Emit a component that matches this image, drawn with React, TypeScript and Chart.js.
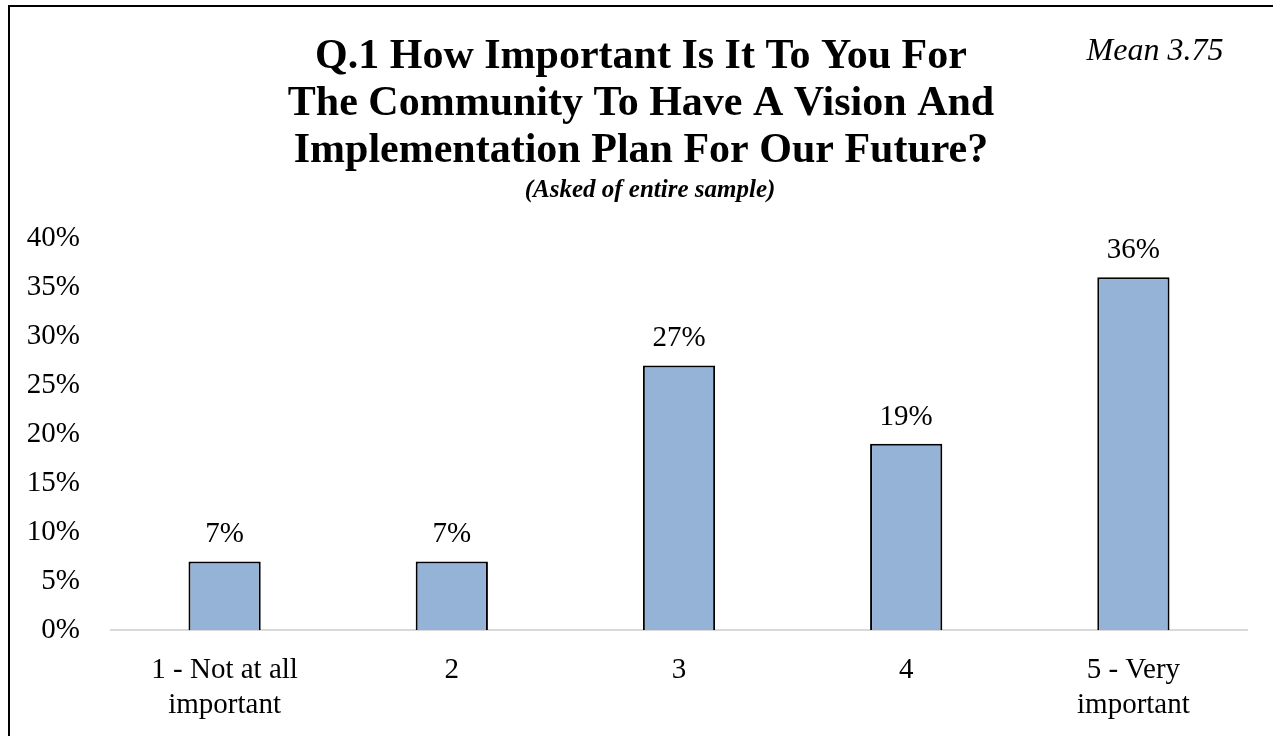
import React, { useEffect, useRef } from "react";
import { Chart, registerables } from "chart.js";

Chart.register(...registerables);

const categories: (string | string[])[] = [
  ["1 - Not at all", "important"],
  "2",
  "3",
  "4",
  ["5 - Very", "important"],
];
const percentValues: number[] = [7, 7, 27, 19, 36];
const yTickValues: number[] = [0, 5, 10, 15, 20, 25, 30, 35, 40];
const titleLines: string[] = [
  "Q.1 How Important Is It To You For",
  "The Community To Have A Vision And",
  "Implementation Plan For Our Future?",
];
const subtitleText = "(Asked of entire sample)";
const meanText = "Mean 3.75";

const FONT = "'Liberation Serif', 'Times New Roman', serif";
const CANVAS_W = 1263;
const CANVAS_H = 729;

const textPlugin = {
  id: "textPlugin",
  afterDraw(chart: any) {
    const ctx = chart.ctx;
    ctx.save();
    ctx.fillStyle = "#000";
    ctx.textAlign = "center";
    ctx.textBaseline = "alphabetic";
    ctx.font = `bold 42px ${FONT}`;
    const baselines = [61, 108, 155];
    titleLines.forEach((line, i) => ctx.fillText(line, 631, baselines[i]));
    ctx.font = `italic bold 25px ${FONT}`;
    ctx.fillText(subtitleText, 640, 190);
    ctx.font = `italic 32px ${FONT}`;
    ctx.fillText(meanText, 1145, 53);

    // data labels
    const meta = chart.getDatasetMeta(0);
    ctx.font = `29px ${FONT}`;
    meta.data.forEach((bar: any, i: number) => {
      ctx.fillText(`${percentValues[i]}%`, bar.x, bar.y - 19);
    });
    ctx.restore();
  },
};

export default function App() {
  const canvasRef = useRef<HTMLCanvasElement | null>(null);

  useEffect(() => {
    if (!canvasRef.current) return;
    const chart = new Chart(canvasRef.current, {
      type: "bar",
      data: {
        labels: categories,
        datasets: [
          {
            data: percentValues,
            backgroundColor: "#95B3D7",
            borderColor: "#000000",
            borderWidth: 2,
            categoryPercentage: 1,
            barPercentage: 0.318,
          },
        ],
      },
      options: {
        responsive: false,
        animation: false,
        layout: { padding: { top: 231, left: 0, right: 26, bottom: 0 } },
        plugins: {
          legend: { display: false },
          tooltip: { enabled: false },
          title: { display: false },
        },
        scales: {
          x: {
            grid: { display: false, drawTicks: false },
            border: { display: true, color: "#d9d9d9", width: 2 },
            ticks: {
              color: "#000",
              font: { family: FONT, size: 29 },
              padding: 23,
              maxRotation: 0,
              autoSkip: false,
            },
            afterFit: (scale: any) => {
              scale.height = 106;
            },
          },
          y: {
            min: yTickValues[0],
            max: yTickValues[yTickValues.length - 1],
            grid: { display: false, drawTicks: false },
            border: { display: false },
            afterBuildTicks: (scale: any) => {
              scale.ticks = yTickValues.map((v) => ({ value: v }));
            },
            ticks: {
              color: "#000",
              font: { family: FONT, size: 29 },
              padding: 31,
              callback: (v: any) => `${v}%`,
            },
            afterFit: (scale: any) => {
              scale.width = 101;
            },
          },
        },
      },
      plugins: [textPlugin],
    });
    return () => chart.destroy();
  }, []);

  return (
    <div
      style={{
        position: "fixed",
        left: 0,
        top: 0,
        width: 1273,
        height: 736,
        overflow: "hidden",
        background: "#fff",
      }}
    >
      <div
        style={{
          position: "absolute",
          left: 8,
          top: 5,
          width: 1300,
          height: 780,
          border: "2px solid #000",
          boxSizing: "border-box",
        }}
      />
      <canvas
        ref={canvasRef}
        width={CANVAS_W}
        height={CANVAS_H}
        style={{ position: "absolute", left: 10, top: 7, width: CANVAS_W, height: CANVAS_H }}
      />
    </div>
  );
}
